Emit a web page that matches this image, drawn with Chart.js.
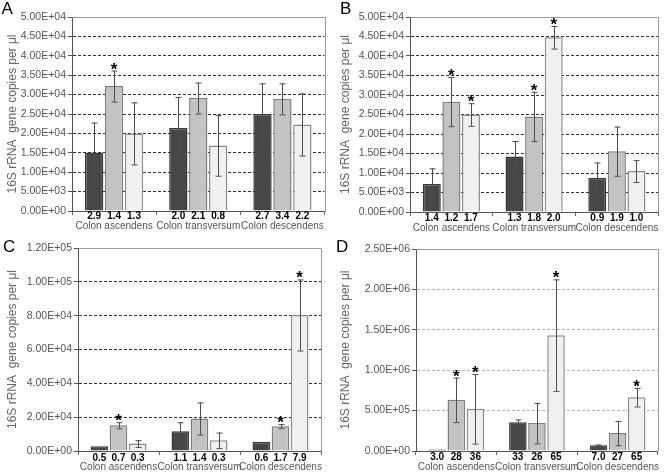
<!DOCTYPE html>
<html>
<head>
<meta charset="utf-8">
<script src="https://cdn.jsdelivr.net/npm/chart.js@4"></script>
<style>
  body { margin: 0; background: #fff; }
  .wrap { position: relative; width: 666px; height: 474px; }
  .panel { position: absolute; width: 333px; height: 237px; }
</style>
</head>
<body>
<div class="wrap">
  <div class="panel" style="left:0;top:0"><canvas id="chartA" width="333" height="237"></canvas></div>
  <div class="panel" style="left:333px;top:0"><canvas id="chartB" width="333" height="237"></canvas></div>
  <div class="panel" style="left:0;top:237px"><canvas id="chartC" width="333" height="237"></canvas></div>
  <div class="panel" style="left:333px;top:237px"><canvas id="chartD" width="333" height="237"></canvas></div>
</div>
<script>
const categories = ['Colon ascendens', 'Colon transversum', 'Colon descendens'];

// panel A
const aDark = [1.51e4, 2.14e4, 2.50e4];
const aMid = [3.22e4, 2.91e4, 2.89e4];
const aLight = [2.00e4, 1.69e4, 2.23e4];
const aDarkErr = [0.77e4, 0.80e4, 0.79e4];
const aMidErr = [0.40e4, 0.40e4, 0.40e4];
const aLightErr = [0.80e4, 0.78e4, 0.80e4];
const aStars = [[0, 0, 0], [1, 0, 0], [0, 0, 0]]; // per series, per category
const aNums = [['2.9', '1.4', '1.3'], ['2.0', '2.1', '0.8'], ['2.7', '3.4', '2.2']]; // per category

// panel B
const bDark = [0.72e4, 1.42e4, 0.88e4];
const bMid = [2.83e4, 2.45e4, 1.56e4];
const bLight = [2.50e4, 4.48e4, 1.05e4];
const bDarkErr = [0.40e4, 0.40e4, 0.39e4];
const bMidErr = [0.63e4, 0.63e4, 0.63e4];
const bLightErr = [0.29e4, 0.29e4, 0.28e4];
const bStars = [[0, 0, 0], [1, 1, 0], [1, 1, 0]];
const bNums = [['1.4', '1.2', '1.7'], ['1.3', '1.8', '2.0'], ['0.9', '1.9', '1.0']];

// panel C
const cDark = [0.28e4, 1.17e4, 0.53e4];
const cMid = [1.52e4, 1.92e4, 1.47e4];
const cLight = [0.44e4, 0.63e4, 8.04e4];
const cDarkErr = [0, 0.53e4, 0];
const cMidErr = [0.18e4, 0.95e4, 0.12e4];
const cLightErr = [0.20e4, 0.46e4, 2.10e4];
const cStars = [[0, 0, 0], [1, 0, 1], [0, 0, 1]];
const cNums = [['0.5', '0.7', '0.3'], ['1.1', '1.4', '0.3'], ['0.6', '1.7', '7.9']];

// panel D
const dDark = [0.2e5, 3.57e5, 0.7e5];
const dMid = [6.33e5, 3.45e5, 2.22e5];
const dLight = [5.22e5, 1.434e6, 6.66e5];
const dDarkErr = [0, 0.33e5, 0.1e5];
const dMidErr = [2.75e5, 2.5e5, 1.5e5];
const dLightErr = [4.3e5, 6.9e5, 1.15e5];
const dStars = [[0, 0, 0], [1, 0, 0], [1, 1, 1]];
const dNums = [['3.0', '28', '36'], ['33', '26', '65'], ['7.0', '27', '65']];

const yTitle = '16S rRNA  gene copies per μl';

Chart.defaults.font.family = '"Liberation Sans", Arial, sans-serif';
Chart.defaults.animation = false;

function sci(v) {
  const parts = v.toExponential(2).split('e');
  const exp = parts[1];
  return parts[0] + 'E' + exp[0] + exp.slice(1).padStart(2, '0');
}

// draws error bars, stars, bar numbers, frame and panel letter
const extras = {
  id: 'extras',
  afterDatasetsDraw(chart) {
    const { ctx, chartArea } = chart;
    const o = chart.options.plugins.extras;
    const y = chart.scales.y;
    ctx.save();
    // frame top + right
    ctx.strokeStyle = '#9a9a9a';
    ctx.lineWidth = 1;
    ctx.beginPath();
    ctx.moveTo(Math.round(chartArea.left) + 0.5, Math.round(chartArea.top) + 0.5);
    ctx.lineTo(Math.round(chartArea.right) + 0.5, Math.round(chartArea.top) + 0.5);
    ctx.lineTo(Math.round(chartArea.right) + 0.5, Math.round(chartArea.bottom) + 0.5);
    ctx.stroke();

    chart.data.datasets.forEach((ds, di) => {
      const meta = chart.getDatasetMeta(di);
      meta.data.forEach((bar, i) => {
        const v = ds.data[i];
        const e = ds.errors[i];
        const x = Math.round(bar.x) + 0.5;
        let topY = y.getPixelForValue(v);
        if (e > 0) {
          topY = y.getPixelForValue(v + e);
          const botY = y.getPixelForValue(v - e);
          ctx.strokeStyle = '#4d4d4d';
          ctx.lineWidth = 1;
          ctx.beginPath();
          ctx.moveTo(x, topY);
          ctx.lineTo(x, botY);
          ctx.moveTo(x - 3, topY + 0.5);
          ctx.lineTo(x + 3, topY + 0.5);
          ctx.moveTo(x - 3, botY + 0.5);
          ctx.lineTo(x + 3, botY + 0.5);
          ctx.stroke();
        }
        if (ds.stars[i]) {
          ctx.fillStyle = '#000';
          ctx.font = 'bold 17px "Liberation Sans", Arial, sans-serif';
          ctx.textAlign = 'center';
          ctx.textBaseline = 'alphabetic';
          ctx.fillText('*', bar.x, topY + 4);
        }
        ctx.fillStyle = '#000';
        ctx.font = 'bold 10px "Liberation Sans", Arial, sans-serif';
        ctx.textAlign = 'center';
        ctx.textBaseline = 'middle';
        ctx.fillText(o.nums[i][di], bar.x, chartArea.bottom + o.numOffset);
      });
    });

    ctx.fillStyle = '#000';
    ctx.font = '17px "Liberation Sans", Arial, sans-serif';
    ctx.textAlign = 'left';
    ctx.textBaseline = 'alphabetic';
    ctx.fillText(o.letter, o.letterX, o.letterY);
    ctx.restore();
  }
};

function makePanel(id, p) {
  const styles = [
    { bg: '#474747', border: '#3a3a3a' },
    { bg: '#c3c3c3', border: '#7d7d7d' },
    { bg: '#f0f0f0', border: '#8c8c8c' }
  ];
  const datasets = p.series.map((s, k) => ({
    data: s,
    errors: p.errors[k],
    stars: p.stars[k],
    backgroundColor: styles[k].bg,
    borderColor: styles[k].border,
    borderWidth: 1.5,
    categoryPercentage: 0.71,
    barPercentage: 0.92
  }));
  return new Chart(document.getElementById(id), {
    type: 'bar',
    data: { labels: categories, datasets: datasets },
    plugins: [extras],
    options: {
      responsive: false,
      devicePixelRatio: 1,
      layout: { padding: { left: 0, top: p.top, right: p.right, bottom: 0 } },
      plugins: {
        legend: { display: false },
        tooltip: { enabled: false },
        extras: { nums: p.nums, numOffset: p.numOffset, letter: p.letter, letterX: p.letterX, letterY: 14 + p.letterDy }
      },
      scales: {
        x: {
          afterFit: (s) => { s.height = p.xHeight; },
          grid: { display: true, drawOnChartArea: false, drawTicks: true, tickLength: 4, color: '#666', offset: true },
          border: { display: true, color: '#555', width: 1 },
          ticks: { color: '#555', padding: p.labelPad, font: { size: 10 }, maxRotation: 0, minRotation: 0, autoSkip: false }
        },
        y: {
          min: 0,
          max: p.max,
          afterFit: (s) => { s.width = p.left; },
          ticks: {
            stepSize: p.step,
            color: '#555',
            padding: 2,
            font: { size: 10.5 },
            callback: (v) => sci(v)
          },
          grid: {
            color: (c) => (c.index === 0 || (c.tick && c.tick.value >= p.max)) ? 'rgba(0,0,0,0)' : p.gridColor,
            tickColor: '#555',
            tickLength: 4,
            lineWidth: 1
          },
          border: { display: true, color: '#555', width: 1, dash: [3, 2] },
          title: {
            display: true,
            text: yTitle,
            color: '#666',
            font: { size: 12 },
            padding: { top: 5, bottom: 0 }
          }
        }
      }
    }
  });
}

makePanel('chartA', {
  series: [aDark, aMid, aLight], errors: [aDarkErr, aMidErr, aLightErr], stars: aStars, nums: aNums,
  max: 5e4, step: 5e3, left: 72, right: 8.5, top: 17, xHeight: 26, labelPad: 5, numOffset: 4.8,
  gridColor: '#333', letter: 'A', letterX: 1.5, letterDy: 0
});
makePanel('chartB', {
  series: [bDark, bMid, bLight], errors: [bDarkErr, bMidErr, bLightErr], stars: bStars, nums: bNums,
  max: 5e4, step: 5e3, left: 77, right: 6, top: 17, xHeight: 25, labelPad: 6.7, numOffset: 6,
  gridColor: '#333', letter: 'B', letterX: 7, letterDy: 0
});
makePanel('chartC', {
  series: [cDark, cMid, cLight], errors: [cDarkErr, cMidErr, cLightErr], stars: cStars, nums: cNums,
  max: 1.2e5, step: 2e4, left: 78, right: 12, top: 11, xHeight: 23, labelPad: 6, numOffset: 7,
  gridColor: '#333', letter: 'C', letterX: 3, letterDy: 1
});
makePanel('chartD', {
  series: [dDark, dMid, dLight], errors: [dDarkErr, dMidErr, dLightErr], stars: dStars, nums: dNums,
  max: 2.5e6, step: 5e5, left: 83, right: 6, top: 12, xHeight: 23, labelPad: 6, numOffset: 6.5,
  gridColor: '#b5b5b5', letter: 'D', letterX: 3, letterDy: 1
});
</script>
</body>
</html>
